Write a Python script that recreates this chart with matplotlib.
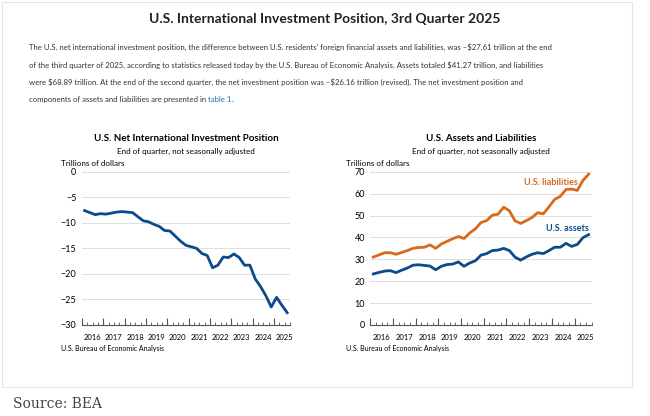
import matplotlib.pyplot as plt
import numpy as np

years = list(range(2016, 2026))
net = [-7.6, -8.0, -8.4, -8.2, -8.3, -8.1, -7.9, -7.8, -7.9, -8.0, -8.8, -9.6,
       -9.8, -10.3, -10.7, -11.5, -11.6, -12.6, -13.6, -14.4, -14.7, -15.0, -16.0, -16.4,
       -18.8, -18.3, -16.7, -16.8, -16.1, -16.8, -18.3, -18.3, -21.0, -22.5, -24.3, -26.5,
       -24.6, -26.16, -27.61]
assets = [23.3, 24.0, 24.6, 24.8, 23.9, 25.0, 26.0, 27.3, 27.5, 27.2, 26.9, 25.2,
          26.8, 27.6, 27.8, 28.8, 26.8, 28.3, 29.3, 31.9, 32.6, 34.0, 34.2, 35.0,
          34.0, 31.0, 29.6, 31.1, 32.3, 33.0, 32.6, 34.0, 35.5, 35.5, 37.3, 35.9,
          36.8, 39.9, 41.27]
liabilities = [31.0, 32.0, 33.0, 33.0, 32.3, 33.1, 34.0, 35.0, 35.4, 35.5, 36.6, 35.0,
               37.0, 38.2, 39.4, 40.4, 39.5, 42.0, 43.9, 46.8, 47.7, 50.2, 50.6, 53.8,
               52.2, 47.6, 46.4, 47.7, 49.1, 51.3, 50.8, 54.0, 57.4, 58.8, 61.9, 62.1,
               61.5, 66.1, 68.89]

x = np.arange(len(net))
blue = '#0b4a8b'
orange = '#d8691d'
plt.rcParams['font.family'] = ['Lato', 'DejaVu Sans']

fig = plt.figure(figsize=(6.5, 4.16), dpi=100)
fig.patches.append(plt.Rectangle((0.003, 0.07), 0.97, 0.925, transform=fig.transFigure,
                                 fill=False, edgecolor='#e4e4e4', lw=0.8))
fig.text(0.5, 0.945, 'U.S. International Investment Position, 3rd Quarter 2025',
         ha='center', fontsize=10, weight='bold', color='#222')
lines = ["The U.S. net international investment position, the difference between U.S. residents' foreign financial assets and liabilities, was \u2013\\$27.61 trillion at the end",
         "of the third quarter of 2025, according to statistics released today by the U.S. Bureau of Economic Analysis. Assets totaled \\$41.27 trillion, and liabilities",
         "were \\$68.89 trillion. At the end of the second quarter, the net investment position was \u2013\\$26.16 trillion (revised). The net investment position and",
         "components of assets and liabilities are presented in "]
y0 = 0.895
for i, ln in enumerate(lines):
    t = fig.text(0.045, y0 - i * 0.042, ln, ha='left', va='top', fontsize=5.6, color='#333')
fig.canvas.draw()
bb = t.get_window_extent().transformed(fig.transFigure.inverted())
t2 = fig.text(bb.x1, y0 - 3 * 0.042, 'table 1', fontsize=5.6, color='#1f6fb5', va='top')
fig.canvas.draw()
bb2 = t2.get_window_extent().transformed(fig.transFigure.inverted())
fig.text(bb2.x1, y0 - 3 * 0.042, '.', fontsize=5.6, color='#333', va='top')

def setup(ax, ylim, step):
    ax.set_xlim(-0.5, len(x) - 0.5)
    ax.set_ylim(*ylim)
    ax.set_yticks(np.arange(ylim[0], ylim[1] + 1, step))
    ax.grid(axis='y', color='#d9d9d9', lw=0.6)
    for s in ['top', 'right', 'left']:
        ax.spines[s].set_visible(False)
    ax.spines['bottom'].set_color('#555')
    ax.tick_params(axis='y', length=0, labelsize=6.5, pad=4)
    ax.set_xticks(np.arange(-0.5, len(x), 4))
    ax.set_xticklabels([])
    ax.set_xticks(np.arange(-0.5, len(x), 1), minor=True)
    ax.tick_params(axis='x', which='major', length=5, direction='in', color='#555')
    ax.tick_params(axis='x', which='minor', length=2, direction='in', color='#555')
    for i, yr in enumerate(years):
        ax.text(i * 4 + 1.5, -0.06, str(yr), transform=ax.get_xaxis_transform(),
                ha='center', va='top', fontsize=5.5)
    ax.set_axisbelow(True)

def labels(ax, title, dx):
    ax.text(0.5, 1.2, title, transform=ax.transAxes, ha='center', fontsize=7, weight='bold')
    ax.text(0.5, 1.115, 'End of quarter, not seasonally adjusted', transform=ax.transAxes,
            ha='center', fontsize=5.8)
    ax.text(dx, 1.04, 'Trillions of dollars', transform=ax.transAxes, fontsize=5.8)
    ax.text(dx, -0.17, 'U.S. Bureau of Economic Analysis', transform=ax.transAxes, fontsize=5)

ax1 = fig.add_axes([0.126, 0.219, 0.32, 0.368])
ax1.plot(x, net, color=blue, lw=2)
setup(ax1, (-30, 0), 5)
labels(ax1, 'U.S. Net International Investment Position', -0.1)

ax2 = fig.add_axes([0.57, 0.219, 0.34, 0.368])
ax2.plot(x, liabilities, color=orange, lw=2)
ax2.plot(x, assets, color=blue, lw=2)
setup(ax2, (0, 70), 10)
labels(ax2, 'U.S. Assets and Liabilities', -0.11)
ax2.text(26.5, 64, 'U.S. liabilities', color=orange, fontsize=6.5, weight='bold')
ax2.text(30.5, 43, 'U.S. assets', color=blue, fontsize=6.5, weight='bold')

fig.text(0.02, 0.02, 'Source: BEA', fontsize=10, family='DejaVu Serif', color='#444')
fig.savefig('out.png', dpi=100)
